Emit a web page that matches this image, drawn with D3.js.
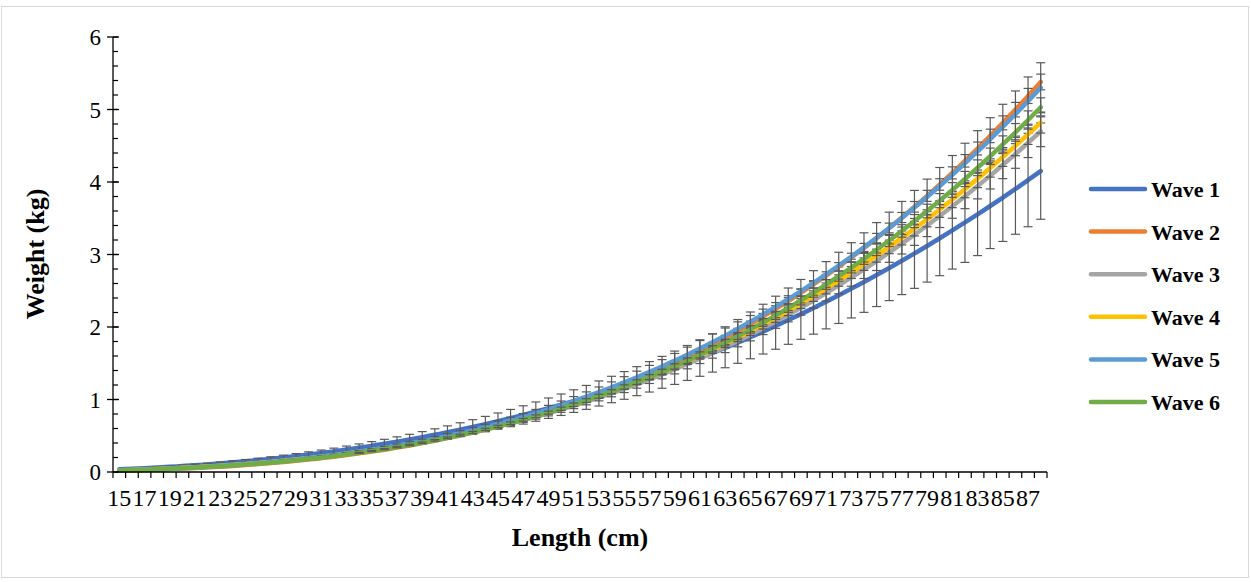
<!DOCTYPE html>
<html><head><meta charset="utf-8">
<script src="https://cdn.jsdelivr.net/npm/d3@7"></script>
<style>
html,body{margin:0;padding:0;background:#fff;}
svg{display:block;}
text{font-family:"Liberation Serif","Times New Roman",serif;fill:#000;}
</style></head>
<body>
<svg id="chart" width="1251" height="582"></svg>
<script>
// ---- data ----
const lengths = [15,16,17,18,19,20,21,22,23,24,25,26,27,28,29,30,31,32,33,34,35,36,37,38,39,40,41,42,43,44,45,46,47,48,49,50,51,52,53,54,55,56,57,58,59,60,61,62,63,64,65,66,67,68,69,70,71,72,73,74,75,76,77,78,79,80,81,82,83,84,85,86,87,88];
const seriesNames = ["Wave 1","Wave 2","Wave 3","Wave 4","Wave 5","Wave 6"];
const seriesColors = ["#4472C4","#ED7D31","#A5A5A5","#FFC000","#5B9BD5","#70AD47"];
const yTicks = [0,1,2,3,4,5,6];

const wave1 = [0.038,0.045,0.053,0.062,0.071,0.082,0.093,0.105,0.119,0.133,0.148,0.164,0.181,0.200,0.219,0.240,0.261,0.284,0.309,0.334,0.361,0.389,0.418,0.448,0.480,0.514,0.548,0.585,0.622,0.661,0.702,0.744,0.787,0.833,0.880,0.928,0.978,1.029,1.083,1.138,1.194,1.253,1.313,1.375,1.438,1.504,1.572,1.641,1.712,1.785,1.860,1.937,2.015,2.096,2.178,2.263,2.350,2.439,2.530,2.622,2.717,2.814,2.913,3.015,3.118,3.224,3.332,3.442,3.554,3.669,3.786,3.904,4.027,4.150];
const wave2 = [0.019,0.023,0.028,0.034,0.040,0.047,0.055,0.064,0.073,0.084,0.096,0.109,0.123,0.138,0.154,0.172,0.191,0.211,0.233,0.257,0.282,0.308,0.336,0.366,0.398,0.432,0.467,0.505,0.544,0.586,0.629,0.675,0.723,0.774,0.826,0.881,0.939,0.999,1.062,1.128,1.196,1.267,1.341,1.417,1.497,1.580,1.666,1.754,1.847,1.942,2.041,2.144,2.249,2.358,2.471,2.587,2.707,2.831,2.959,3.091,3.226,3.366,3.510,3.658,3.809,3.966,4.126,4.292,4.462,4.636,4.816,4.998,5.187,5.380];
const wave3 = [0.023,0.028,0.034,0.040,0.047,0.055,0.064,0.073,0.084,0.095,0.108,0.121,0.136,0.152,0.168,0.186,0.205,0.226,0.248,0.271,0.296,0.322,0.349,0.379,0.409,0.441,0.475,0.511,0.549,0.588,0.629,0.672,0.716,0.763,0.811,0.862,0.915,0.970,1.027,1.086,1.148,1.211,1.278,1.346,1.417,1.490,1.566,1.644,1.725,1.808,1.894,1.984,2.075,2.169,2.266,2.366,2.469,2.575,2.684,2.795,2.910,3.028,3.149,3.273,3.400,3.531,3.665,3.803,3.944,4.088,4.237,4.386,4.541,4.700];
const wave4 = [0.024,0.029,0.035,0.041,0.049,0.057,0.066,0.075,0.086,0.098,0.111,0.124,0.139,0.155,0.173,0.191,0.211,0.232,0.254,0.278,0.303,0.330,0.358,0.388,0.420,0.453,0.488,0.524,0.563,0.603,0.645,0.689,0.734,0.782,0.832,0.884,0.938,0.995,1.053,1.114,1.177,1.242,1.310,1.380,1.453,1.528,1.606,1.686,1.769,1.854,1.942,2.034,2.128,2.224,2.324,2.426,2.532,2.641,2.752,2.867,2.984,3.105,3.229,3.357,3.486,3.622,3.759,3.900,4.044,4.193,4.345,4.498,4.658,4.820];
const wave5 = [0.022,0.027,0.032,0.039,0.046,0.054,0.062,0.072,0.083,0.095,0.107,0.121,0.136,0.152,0.170,0.189,0.209,0.230,0.253,0.278,0.304,0.332,0.361,0.393,0.425,0.460,0.497,0.535,0.576,0.618,0.663,0.710,0.758,0.810,0.863,0.919,0.977,1.038,1.101,1.167,1.235,1.306,1.380,1.455,1.535,1.617,1.702,1.790,1.881,1.975,2.072,2.173,2.277,2.383,2.494,2.608,2.725,2.846,2.970,3.098,3.230,3.365,3.504,3.647,3.793,3.944,4.099,4.258,4.421,4.589,4.762,4.935,5.116,5.300];
const wave6 = [0.021,0.026,0.031,0.037,0.044,0.051,0.059,0.068,0.079,0.090,0.102,0.115,0.129,0.145,0.161,0.179,0.198,0.219,0.241,0.264,0.289,0.315,0.343,0.373,0.404,0.437,0.471,0.508,0.546,0.587,0.629,0.673,0.720,0.768,0.819,0.872,0.927,0.985,1.045,1.107,1.172,1.239,1.309,1.381,1.456,1.534,1.615,1.699,1.785,1.874,1.967,2.063,2.160,2.262,2.367,2.475,2.586,2.701,2.819,2.940,3.065,3.193,3.325,3.461,3.600,3.743,3.890,4.041,4.196,4.355,4.519,4.684,4.855,5.030];

const err1 = [0.006,0.007,0.008,0.010,0.011,0.013,0.015,0.017,0.019,0.021,0.024,0.026,0.029,0.032,0.035,0.038,0.042,0.045,0.049,0.053,0.058,0.062,0.067,0.072,0.077,0.082,0.088,0.094,0.100,0.106,0.112,0.119,0.126,0.133,0.141,0.148,0.156,0.165,0.173,0.182,0.191,0.200,0.210,0.220,0.230,0.241,0.252,0.263,0.274,0.286,0.298,0.310,0.322,0.335,0.348,0.362,0.376,0.390,0.405,0.420,0.435,0.450,0.466,0.482,0.499,0.516,0.533,0.551,0.569,0.587,0.606,0.625,0.644,0.664];
const err2 = [0.000,0.000,0.001,0.001,0.001,0.001,0.001,0.001,0.001,0.002,0.002,0.002,0.002,0.003,0.003,0.003,0.004,0.004,0.005,0.005,0.006,0.006,0.007,0.007,0.008,0.009,0.009,0.010,0.011,0.012,0.013,0.014,0.014,0.015,0.017,0.018,0.019,0.020,0.021,0.023,0.024,0.025,0.027,0.028,0.030,0.032,0.033,0.035,0.037,0.039,0.041,0.043,0.045,0.047,0.049,0.052,0.054,0.057,0.059,0.062,0.065,0.067,0.070,0.073,0.076,0.079,0.083,0.086,0.089,0.093,0.096,0.100,0.104,0.108];
const err3 = [0.001,0.001,0.002,0.002,0.002,0.002,0.003,0.003,0.004,0.004,0.005,0.005,0.006,0.007,0.008,0.008,0.009,0.010,0.011,0.012,0.013,0.014,0.016,0.017,0.018,0.020,0.021,0.023,0.025,0.026,0.028,0.030,0.032,0.034,0.037,0.039,0.041,0.044,0.046,0.049,0.052,0.055,0.057,0.061,0.064,0.067,0.070,0.074,0.078,0.081,0.085,0.089,0.093,0.098,0.102,0.106,0.111,0.116,0.121,0.126,0.131,0.136,0.142,0.147,0.153,0.159,0.165,0.171,0.177,0.184,0.191,0.197,0.204,0.212];
const err4 = [0.001,0.001,0.001,0.001,0.001,0.002,0.002,0.002,0.003,0.003,0.003,0.004,0.004,0.005,0.005,0.006,0.006,0.007,0.008,0.008,0.009,0.010,0.011,0.012,0.013,0.014,0.015,0.016,0.017,0.018,0.019,0.021,0.022,0.023,0.025,0.027,0.028,0.030,0.032,0.033,0.035,0.037,0.039,0.041,0.044,0.046,0.048,0.051,0.053,0.056,0.058,0.061,0.064,0.067,0.070,0.073,0.076,0.079,0.083,0.086,0.090,0.093,0.097,0.101,0.105,0.109,0.113,0.117,0.121,0.126,0.130,0.135,0.140,0.145];
const err5 = [0.001,0.002,0.002,0.003,0.003,0.003,0.004,0.005,0.005,0.006,0.007,0.008,0.009,0.010,0.011,0.012,0.014,0.015,0.016,0.018,0.020,0.022,0.023,0.026,0.028,0.030,0.032,0.035,0.037,0.040,0.043,0.046,0.049,0.053,0.056,0.060,0.063,0.067,0.072,0.076,0.080,0.085,0.090,0.095,0.100,0.105,0.111,0.116,0.122,0.128,0.135,0.141,0.148,0.155,0.162,0.169,0.177,0.185,0.193,0.201,0.210,0.219,0.228,0.237,0.247,0.256,0.266,0.277,0.287,0.298,0.310,0.321,0.333,0.345];
const err6 = [0.001,0.001,0.001,0.001,0.001,0.001,0.002,0.002,0.002,0.002,0.003,0.003,0.003,0.004,0.004,0.005,0.005,0.006,0.006,0.007,0.008,0.008,0.009,0.010,0.010,0.011,0.012,0.013,0.014,0.015,0.016,0.018,0.019,0.020,0.021,0.023,0.024,0.026,0.027,0.029,0.030,0.032,0.034,0.036,0.038,0.040,0.042,0.044,0.046,0.049,0.051,0.054,0.056,0.059,0.062,0.064,0.067,0.070,0.073,0.076,0.080,0.083,0.086,0.090,0.094,0.097,0.101,0.105,0.109,0.113,0.117,0.122,0.126,0.131];

const values = [wave1,wave2,wave3,wave4,wave5,wave6];
const errors = [err1,err2,err3,err4,err5,err6];

// ---- layout ----
const svg = d3.select("#chart");
const plot = {left:113, right:1047, top:37, bottom:472};

svg.append("rect").attr("x",1.5).attr("y",6.5).attr("width",1247).attr("height",571)
  .attr("fill","#fff").attr("stroke","#d9d9d9").attr("stroke-width",1);

const x = d3.scaleBand().domain(lengths).range([plot.left, plot.right]).paddingInner(0).paddingOuter(0);
const xc = d => x(d) + x.bandwidth()/2;
const y = d3.scaleLinear().domain([0,6]).range([plot.bottom, plot.top]);

const series = seriesNames.map((name,i) => ({
  name, color: seriesColors[i],
  pts: lengths.map((L,j) => ({L, v: values[i][j], e: errors[i][j]}))
}));

// series: error bars then line, in order, so later lines sit on top
const line = d3.line().x(d => xc(d.L)).y(d => y(d.v)).curve(d3.curveMonotoneX);
const gSeries = svg.append("g");
const cap = 4.5;
series.forEach(s => {
  const g = gSeries.append("g");
  g.append("path").datum(s.pts).attr("d", line)
    .attr("fill","none").attr("stroke", s.color).attr("stroke-width",4.5)
    .attr("stroke-linejoin","round").attr("stroke-linecap","round");
  const ge = g.append("g").attr("stroke","#595959").attr("stroke-width",1.2).attr("fill","none");
  s.pts.forEach(p => {
    const cx = xc(p.L), y1 = y(p.v + p.e), y2 = y(p.v - p.e);
    if (Math.abs(y2 - y1) < 1) return;
    ge.append("line").attr("x1",cx).attr("x2",cx).attr("y1",y1).attr("y2",y2);
    ge.append("line").attr("x1",cx-cap).attr("x2",cx+cap).attr("y1",y1).attr("y2",y1);
    ge.append("line").attr("x1",cx-cap).attr("x2",cx+cap).attr("y1",y2).attr("y2",y2);
  });
});

// y axis
const gy = svg.append("g").attr("transform",`translate(${plot.left},0)`);
gy.append("line").attr("x1",0).attr("x2",0).attr("y1",plot.top).attr("y2",plot.bottom).attr("stroke","#000").attr("stroke-width",1.3);
const minor = d3.range(0,6.0001,0.2);
gy.selectAll("line.minor").data(minor).join("line").attr("class","minor")
  .attr("x1",0).attr("x2",5).attr("y1",d=>y(d)).attr("y2",d=>y(d)).attr("stroke","#000").attr("stroke-width",1.2);
gy.selectAll("line.major").data(yTicks).join("line").attr("class","major")
  .attr("x1",-6).attr("x2",6).attr("y1",d=>y(d)).attr("y2",d=>y(d)).attr("stroke","#000").attr("stroke-width",1.3);
const yAxis = d3.axisLeft(y).tickValues(yTicks).tickSize(0).tickPadding(12).tickFormat(d3.format("d"));
const gyl = svg.append("g").attr("transform",`translate(${plot.left},0)`).call(yAxis);
gyl.select(".domain").remove();
gyl.selectAll("text").style("font-size","23px").style("font-family","'Liberation Serif',serif").attr("dy","0.33em");

// x axis
const gx = svg.append("g").attr("transform",`translate(0,${plot.bottom})`);
gx.append("line").attr("x1",plot.left).attr("x2",plot.right).attr("y1",0).attr("y2",0).attr("stroke","#000").attr("stroke-width",1.3);
const bounds = lengths.map(L => x(L)).concat([plot.right]);
gx.selectAll("line.tk").data(bounds).join("line").attr("class","tk")
  .attr("x1",d=>d).attr("x2",d=>d).attr("y1",0).attr("y2",6).attr("stroke","#000").attr("stroke-width",1.2);
const xLabels = lengths.filter((L,i) => i % 2 === 0);
const xAxis = d3.axisBottom(x).tickValues(xLabels).tickSize(0).tickPadding(17);
const gxl = svg.append("g").attr("transform",`translate(0,${plot.bottom})`).call(xAxis);
gxl.select(".domain").remove();
gxl.selectAll("text").style("font-size","24px").style("font-family","'Liberation Serif',serif");

// axis titles
svg.append("text").attr("x",580).attr("y",546).attr("text-anchor","middle")
  .style("font-size","26px").style("font-weight","bold").text("Length (cm)");
svg.append("text").attr("transform","translate(44,254) rotate(-90)").attr("text-anchor","middle")
  .style("font-size","26px").style("font-weight","bold").text("Weight (kg)");

// legend
const leg = svg.append("g");
series.forEach((s,i) => {
  const ly = 189 + i*42.6;
  leg.append("line").attr("x1",1091).attr("x2",1145).attr("y1",ly).attr("y2",ly)
    .attr("stroke",s.color).attr("stroke-width",4.5).attr("stroke-linecap","round");
  leg.append("text").attr("x",1151).attr("y",ly+8).style("font-size","22px").style("font-weight","bold").text(s.name);
});
</script>
</body></html>
